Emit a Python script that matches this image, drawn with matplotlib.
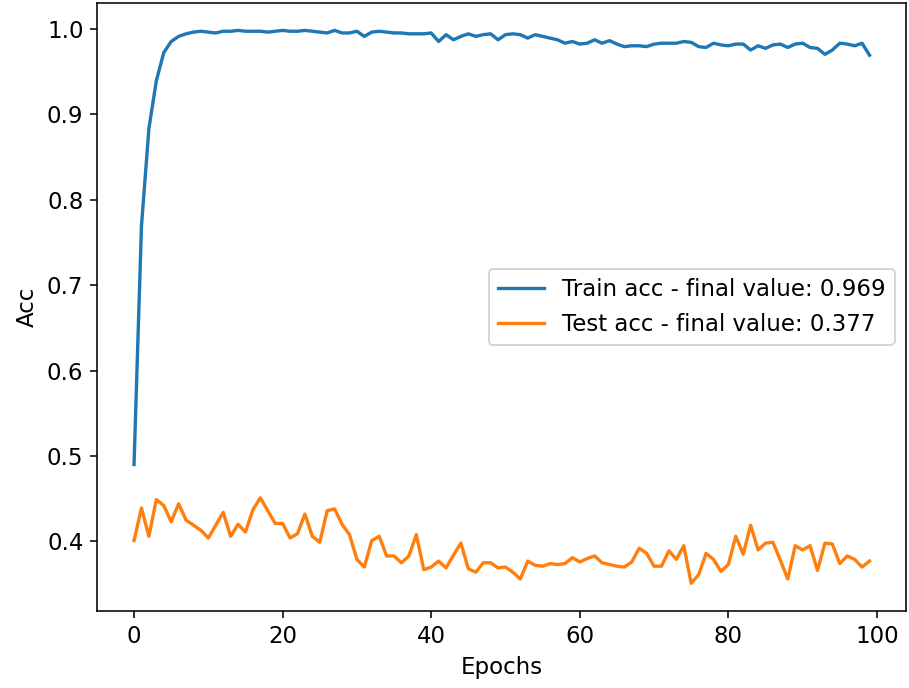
import numpy as np
import matplotlib
matplotlib.use('Agg')
import matplotlib.pyplot as plt

# accuracy per epoch
train_acc = [
    0.490, 0.769, 0.883, 0.939, 0.972, 0.985, 0.991, 0.994, 0.996, 0.997,
    0.996, 0.995, 0.997, 0.997, 0.998, 0.997, 0.997, 0.997, 0.996, 0.997,
    0.998, 0.997, 0.997, 0.998, 0.997, 0.996, 0.995, 0.998, 0.995, 0.995,
    0.997, 0.991, 0.996, 0.997, 0.996, 0.995, 0.995, 0.994, 0.994, 0.994,
    0.995, 0.985, 0.993, 0.987, 0.991, 0.994, 0.991, 0.993, 0.994, 0.987,
    0.993, 0.994, 0.993, 0.989, 0.993, 0.991, 0.989, 0.987, 0.983, 0.985,
    0.982, 0.983, 0.987, 0.983, 0.986, 0.982, 0.979, 0.980, 0.980, 0.979,
    0.982, 0.983, 0.983, 0.983, 0.985, 0.984, 0.979, 0.978, 0.983, 0.981,
    0.980, 0.982, 0.982, 0.975, 0.980, 0.977, 0.981, 0.982, 0.978, 0.982,
    0.983, 0.978, 0.977, 0.970, 0.975, 0.983, 0.982, 0.980, 0.983, 0.969,
]
test_acc = [
    0.401, 0.439, 0.406, 0.449, 0.442, 0.423, 0.444, 0.425, 0.419, 0.413,
    0.404, 0.419, 0.434, 0.406, 0.420, 0.411, 0.437, 0.451, 0.436, 0.421,
    0.421, 0.404, 0.409, 0.432, 0.406, 0.399, 0.436, 0.438, 0.420, 0.408,
    0.379, 0.370, 0.401, 0.406, 0.383, 0.383, 0.375, 0.383, 0.408, 0.367,
    0.370, 0.377, 0.369, 0.384, 0.398, 0.368, 0.364, 0.375, 0.375, 0.369,
    0.370, 0.364, 0.356, 0.377, 0.372, 0.371, 0.374, 0.373, 0.374, 0.381,
    0.376, 0.380, 0.383, 0.375, 0.373, 0.371, 0.370, 0.376, 0.392, 0.386,
    0.371, 0.371, 0.389, 0.379, 0.395, 0.351, 0.361, 0.386, 0.379, 0.365,
    0.373, 0.406, 0.385, 0.419, 0.390, 0.398, 0.399, 0.378, 0.356, 0.395,
    0.390, 0.395, 0.366, 0.398, 0.397, 0.374, 0.383, 0.379, 0.370, 0.377,
]
epochs = np.arange(len(train_acc))

plt.rcParams['font.size'] = 11.6
plt.rcParams['lines.linewidth'] = 1.7

fig, ax = plt.subplots(figsize=(909 / 142, 688 / 142), dpi=142)
fig.subplots_adjust(left=0.107, right=0.997, top=0.996, bottom=0.112)

ax.plot(epochs, train_acc, label=f"Train acc - final value: {train_acc[-1]:.3f}")
ax.plot(epochs, test_acc, label=f"Test acc - final value: {test_acc[-1]:.3f}")
ax.set_xlabel("Epochs")
ax.set_ylabel("Acc")
ax.legend(loc='center right')

fig.savefig("out.png", dpi=142)
